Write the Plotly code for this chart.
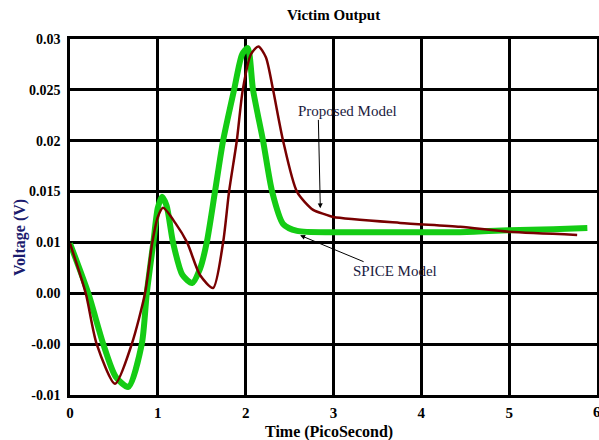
import plotly.graph_objects as go

# Time axis in picoseconds, voltage in volts (axis scale as drawn)
spice_t = [0.0, 0.208, 0.379, 0.52, 0.664, 0.817, 0.874, 0.949, 1.0, 1.048, 1.1, 1.173, 1.28, 1.39,
           1.48, 1.557, 1.651, 1.743, 1.868, 1.96, 2.024, 2.084, 2.198, 2.301, 2.426, 2.585,
           3.0, 3.5, 4.0, 4.44, 5.0, 5.5, 5.89]
spice_v = [0.0099, 0.005, 0.0, -0.0032, -0.0042, 0.0, 0.005, 0.01, 0.0134, 0.01448, 0.0136, 0.01, 0.0068,
           0.006, 0.0074, 0.01, 0.015, 0.02, 0.025, 0.0285, 0.02911, 0.025, 0.02, 0.015, 0.01182, 0.01113,
           0.0110, 0.0110, 0.0110, 0.0110, 0.0112, 0.0113, 0.01143]

proposed_t = [0.0, 0.179, 0.304, 0.513, 0.703, 0.854, 0.937, 1.0, 1.059, 1.2, 1.333, 1.48, 1.629,
              1.743, 1.811, 1.899, 1.967, 2.06, 2.145, 2.23, 2.312, 2.426, 2.585, 2.768, 2.904,
              3.0, 3.759, 4.442, 5.0, 5.774]
proposed_v = [0.0099, 0.005, 0.0, -0.0039, 0.0, 0.005, 0.01, 0.0125, 0.0134, 0.0119, 0.01, 0.0068, 0.00552,
              0.01, 0.015, 0.02, 0.025, 0.0285, 0.02927, 0.0282, 0.025, 0.02, 0.01497, 0.0132, 0.01276,
              0.0125, 0.01192, 0.01153, 0.01104, 0.01074]

x_ticks = [0, 1, 2, 3, 4, 5, 6]
y_tickvals = [0.03, 0.025, 0.02, 0.015, 0.01, 0.005, 0.0, -0.005]
y_ticktext = ["0.03", "0.025", "0.02", "0.015", "0.01", "0.00", "-0.00", "-0.01"]

serif = "Liberation Serif, Times New Roman, serif"

fig = go.Figure()
fig.add_trace(go.Scatter(x=spice_t, y=spice_v, mode="lines", name="SPICE Model",
                         line=dict(color="#14cc14", width=6, shape="spline", smoothing=0.7)))
fig.add_trace(go.Scatter(x=proposed_t, y=proposed_v, mode="lines", name="Proposed Model",
                         line=dict(color="#780000", width=2.5, shape="spline", smoothing=0.7)))

fig.update_layout(
    width=599, height=440,
    margin=dict(l=70, r=2, t=39, b=45, autoexpand=False),
    paper_bgcolor="white", plot_bgcolor="white",
    showlegend=False,
    font=dict(family=serif, color="black"),
)
fig.update_xaxes(range=[0, 6], tickvals=x_ticks, showgrid=True, gridcolor="black", gridwidth=2.5,
                 showline=True, linecolor="black", linewidth=2.5, mirror=True, zeroline=False,
                 automargin=False,
                 tickfont=dict(family=serif, size=15, color="black", weight="bold"), ticklabelstandoff=2)
fig.update_yaxes(range=[-0.005, 0.03], tickvals=y_tickvals, ticktext=y_ticktext, showgrid=True,
                 gridcolor="black", gridwidth=2.5, showline=True, linecolor="black", linewidth=2.5,
                 mirror=True, zeroline=False, automargin=False,
                 tickfont=dict(family=serif, size=14, color="black", weight="bold"), ticklabelstandoff=4)

ann = []
ann.append(dict(text="<b>Victim Output</b>", xref="paper", yref="paper", x=0.5, y=1, yshift=24,
                showarrow=False, font=dict(family=serif, size=15, color="black"), yanchor="middle"))
ann.append(dict(text="<b>Time (PicoSecond)</b>", xref="paper", yref="paper", x=0.5, y=0, yshift=-37,
                xshift=-5, showarrow=False, font=dict(family=serif, size=16, color="black"),
                yanchor="middle"))
ann.append(dict(text="<b>Voltage (V)</b>", xref="paper", yref="paper", x=0, y=0.441, xshift=-50,
                textangle=-90, showarrow=False, font=dict(family=serif, size=16, color="#1c1c6e"),
                xanchor="center", yanchor="middle"))
ann.append(dict(text="<b>6</b>", xref="x", yref="paper", x=6, y=0, yshift=-17, showarrow=False,
                font=dict(family=serif, size=15, color="black"), xanchor="center", yanchor="middle"))
ann.append(dict(text="Proposed Model", x=3.16, y=0.0229, showarrow=False,
                font=dict(family=serif, size=15, color="#1a1a40")))
ann.append(dict(text="", x=2.85, y=0.01335, ax=-2, ay=-90, showarrow=True, arrowhead=2,
                arrowsize=1, arrowwidth=1, arrowcolor="black"))
ann.append(dict(text="SPICE Model", x=3.70, y=0.00715, showarrow=False,
                font=dict(family=serif, size=15, color="#1a1a40")))
ann.append(dict(text="", x=2.62, y=0.0107, ax=65, ay=27, showarrow=True, arrowhead=2,
                arrowsize=1, arrowwidth=1, arrowcolor="black"))
fig.update_layout(annotations=ann)

fig.write_html("out.html", config={"displayModeBar": False},
               post_script="document.body.style.margin='0';document.body.style.overflow='hidden';")
